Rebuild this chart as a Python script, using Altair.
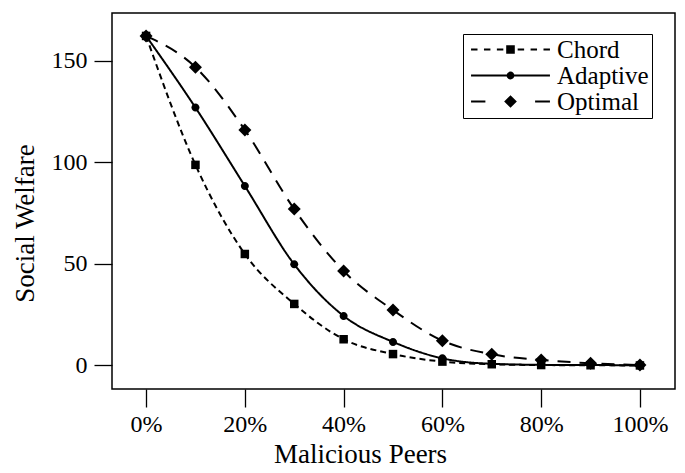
import altair as alt
import pandas as pd

# ---- data ----
peers = [0, 10, 20, 30, 40, 50, 60, 70, 80, 90, 100]
series_names = ["Chord", "Adaptive", "Optimal"]
chord = [162.3, 98.8, 54.9, 30.3, 12.9, 5.6, 1.9, 0.6, 0.2, 0.1, 0.0]
adaptive = [162.3, 127.0, 88.4, 49.8, 24.4, 11.6, 3.5, 0.8, 0.3, 0.2, 0.1]
optimal = [162.3, 146.9, 116.0, 77.0, 46.5, 27.3, 12.2, 5.5, 2.7, 1.1, 0.2]
x_ticks = [0, 20, 40, 60, 80, 100]
y_ticks = [0, 50, 100, 150]

rows = []
for name, vals in zip(series_names, [chord, adaptive, optimal]):
    for p, v in zip(peers, vals):
        rows.append({"peers": p, "welfare": v, "series": name})
df = pd.DataFrame(rows)

FONT = "Liberation Serif"
dashes = [[6, 4], [1, 0], [13, 9]]

# marker glyphs (unit paths, drawn at a fixed symbol size)
def square(h):
    return f"M{-h},{-h}H{h}V{h}H{-h}Z"

def circle(r):
    return f"M{r},0A{r},{r} 0 1,1 {-r},0A{r},{r} 0 1,1 {r},0Z"

def diamond(h):
    return f"M0,{-h}L{h},0L0,{h}L{-h},0Z"

def bar(a, b, t=0.095):
    return f"M{a},{-t}H{b}V{t}H{a}Z"

marker_paths = [square(0.85), circle(0.8), diamond(1.3)]

x_enc = alt.X(
    "peers:Q",
    scale=alt.Scale(domain=[-6.9, 107.1], nice=False, zero=False),
    axis=alt.Axis(
        values=x_ticks,
        labelExpr="datum.value + '%'",
        title="Malicious Peers",
        titleX=248,
        titleY=73,
        titleAlign="center",
        titleBaseline="alphabetic",
        labelPadding=5,
    ),
)
y_enc = alt.Y(
    "welfare:Q",
    scale=alt.Scale(domain=[-11.6, 173.6], nice=False, zero=False),
    axis=alt.Axis(
        values=y_ticks,
        title="Social Welfare",
        titleX=-87,
        titleY=210,
        titleAlign="center",
        titleBaseline="middle",
        labelPadding=7,
    ),
)

lines = alt.Chart(df).mark_line(
    interpolate="monotone", color="black", strokeWidth=2
).encode(
    x=x_enc,
    y=y_enc,
    strokeDash=alt.StrokeDash(
        "series:N", scale=alt.Scale(domain=series_names, range=dashes), legend=None
    ),
)

points = alt.Chart(df).mark_point(
    filled=True, color="black", opacity=1, size=100
).encode(
    x="peers:Q",
    y="welfare:Q",
    shape=alt.Shape(
        "series:N", scale=alt.Scale(domain=series_names, range=marker_paths), legend=None
    ),
)

# legend-only layer: symbol = dashed line (filled bars) with marker in the middle
s = 0.63
chord_leg = "".join(
    bar(a, a + s) for a in [-3.85, -3.85 + 2 * s, -3.85 + 4 * s, 3.85 - 5 * s, 3.85 - 3 * s, 3.85 - s]
) + square(0.42)
adaptive_leg = bar(-3.85, 3.85) + circle(0.38)
optimal_leg = bar(-3.85, -2.45) + bar(2.4, 3.85) + diamond(0.62)
legend_paths = [chord_leg, adaptive_leg, optimal_leg]

legend_layer = alt.Chart(df).transform_filter("false").mark_point(
    filled=True, color="black", opacity=1
).encode(
    x="peers:Q",
    y="welfare:Q",
    shape=alt.Shape(
        "series:N",
        scale=alt.Scale(domain=series_names, range=legend_paths),
        legend=alt.Legend(
            title=None,
            orient="none",
            legendX=351,
            legendY=21,
            strokeColor="black",
            fillColor="white",
            padding=3,
            cornerRadius=0,
            labelFont=FONT,
            labelFontSize=25,
            labelColor="black",
            symbolSize=420,
            symbolStrokeWidth=0,
            symbolFillColor="black",
            symbolOpacity=1,
            symbolOffset=32,
            labelOffset=34,
            rowPadding=0,
        ),
    ),
)

chart = (
    alt.layer(lines, points, legend_layer)
    .resolve_scale(shape="independent")
    .properties(
        width=563,
        height=376,
        autosize=alt.AutoSizeParams(type="none"),
        padding={"left": 104, "top": 5, "right": 2, "bottom": 80},
    )
    .configure_view(stroke="black", strokeWidth=1.5)
    .configure_axis(
        domain=False,
        grid=False,
        tickColor="black",
        tickSize=18,
        tickWidth=1.3,
        labelFont=FONT,
        labelFontSize=24,
        labelColor="black",
        titleFont=FONT,
        titleFontSize=27,
        titleColor="black",
        titleFontWeight="normal",
    )
)

chart.save("out.html", embed_options={"renderer": "svg", "actions": False})
